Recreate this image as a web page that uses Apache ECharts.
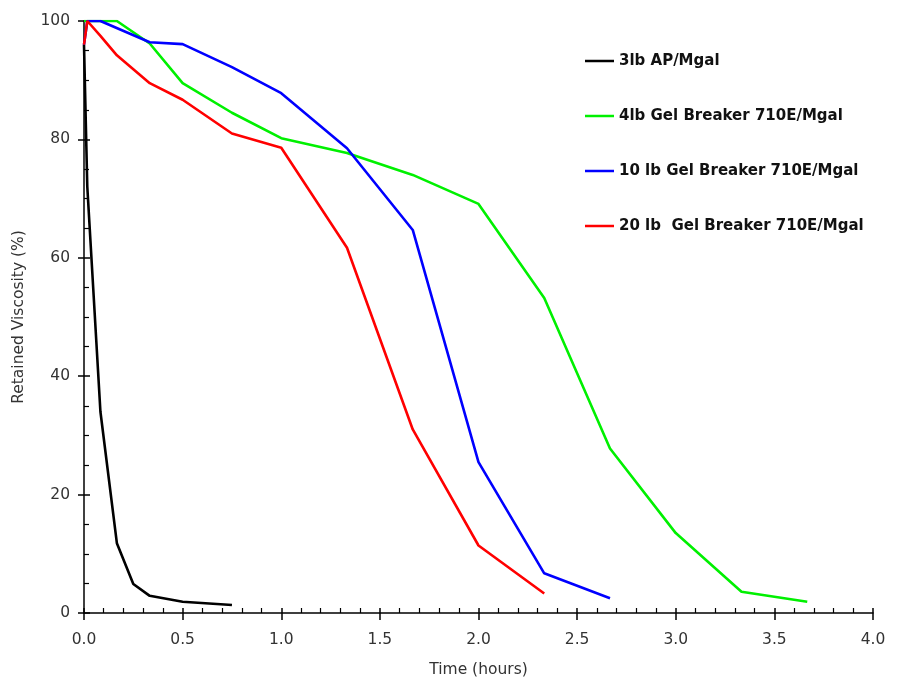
<!DOCTYPE html>
<html>
<head>
<meta charset="utf-8">
<script src="https://cdn.jsdelivr.net/npm/echarts@6/dist/echarts.min.js"></script>
<style>
html,body{margin:0;padding:0;background:#fff;}
#chart{width:899px;height:683px;}
</style>
</head>
<body>
<div id="chart"></div>
<script>
// Data (time in hours, retained viscosity in %)
var seriesNames = ['3lb AP/Mgal', '4lb Gel Breaker 710E/Mgal', '10 lb Gel Breaker 710E/Mgal', '20 lb  Gel Breaker 710E/Mgal'];
var ap3 = [[0,96],[0.0167,72],[0.0833,34],[0.1667,11.8],[0.25,4.9],[0.3333,2.9],[0.5,1.9],[0.75,1.35]];
var gb4 = [[0,100],[0.0833,100],[0.1667,100],[0.3333,96.2],[0.5,89.5],[0.75,84.5],[1.0,80.2],[1.3333,77.7],[1.6667,74.0],[2.0,69.1],[2.3333,53.2],[2.6667,27.8],[3.0,13.5],[3.3333,3.6],[3.6667,1.9]];
var gb10 = [[0,96],[0.0167,100],[0.0833,100],[0.3333,96.4],[0.5,96.1],[0.75,92.2],[1.0,87.8],[1.3333,78.5],[1.6667,64.7],[2.0,25.5],[2.3333,6.7],[2.6667,2.5]];
var gb20 = [[0,96],[0.0167,100],[0.0833,97.5],[0.1667,94.2],[0.3333,89.5],[0.5,86.7],[0.75,81.0],[1.0,78.6],[1.3333,61.7],[1.6667,31.0],[2.0,11.4],[2.3333,3.3]];
var colors = ['#000000', '#00f000', '#0000ff', '#ff0000'];
var xName = 'Time (hours)';
var yName = 'Retained Viscosity (%)';

var chart = echarts.init(document.getElementById('chart'));
var FONT = 'DejaVu Sans, Verdana, sans-serif';
var labelStyle = {color:'#333', fontSize:15.5, fontFamily:FONT};
var data = [ap3, gb4, gb10, gb20];
var option = {
  animation:false,
  backgroundColor:'#fff',
  grid:{left:84, right:26, top:21, bottom:70},
  legend:{
    orient:'vertical', left:580, top:47, itemWidth:29, itemHeight:2.5, itemGap:37,
    icon:'rect',
    textStyle:{color:'#111', fontSize:15, lineHeight:18, fontWeight:'bold', fontFamily:FONT},
    data:seriesNames
  },
  xAxis:[{
    type:'value', min:0, max:4, interval:0.5,
    name:xName, nameLocation:'middle', nameGap:49,
    nameTextStyle:labelStyle,
    axisLine:{lineStyle:{color:'#000', width:1.5}},
    axisTick:{inside:true, length:5, lineStyle:{color:'#000', width:1.5}},
    minorTick:{show:true, splitNumber:5, length:5, lineStyle:{color:'#000', width:1.2}},
    axisLabel:Object.assign({margin:19, formatter:function(v){return v.toFixed(1);}}, labelStyle),
    splitLine:{show:false}
  },{
    type:'value', min:0, max:4, interval:0.5, position:'bottom',
    axisLine:{show:false},
    axisTick:{inside:false, length:7, lineStyle:{color:'#000', width:1.5}},
    axisLabel:{show:false}, splitLine:{show:false}
  }],
  yAxis:[{
    type:'value', min:0, max:100, interval:20,
    name:yName, nameLocation:'middle', nameGap:57,
    nameTextStyle:labelStyle,
    axisLine:{show:true, lineStyle:{color:'#000', width:1.5}},
    axisTick:{inside:true, length:6, lineStyle:{color:'#000', width:1.5}},
    minorTick:{show:true, splitNumber:4, length:5, lineStyle:{color:'#000', width:1.2}},
    axisLabel:Object.assign({margin:14}, labelStyle),
    splitLine:{show:false}
  },{
    type:'value', min:0, max:100, interval:20, position:'left',
    axisLine:{show:false},
    axisTick:{show:true, inside:false, length:6, lineStyle:{color:'#000', width:1.5}},
    axisLabel:{show:false}, splitLine:{show:false}
  }],
  series: seriesNames.map(function(n, i){
    return {
      name:n, type:'line', xAxisIndex:0, yAxisIndex:0,
      data:data[i], symbol:'none', smooth:false,
      lineStyle:{color:colors[i], width:2.6},
      itemStyle:{color:colors[i]}
    };
  })
};
chart.setOption(option);
</script>
</body>
</html>
